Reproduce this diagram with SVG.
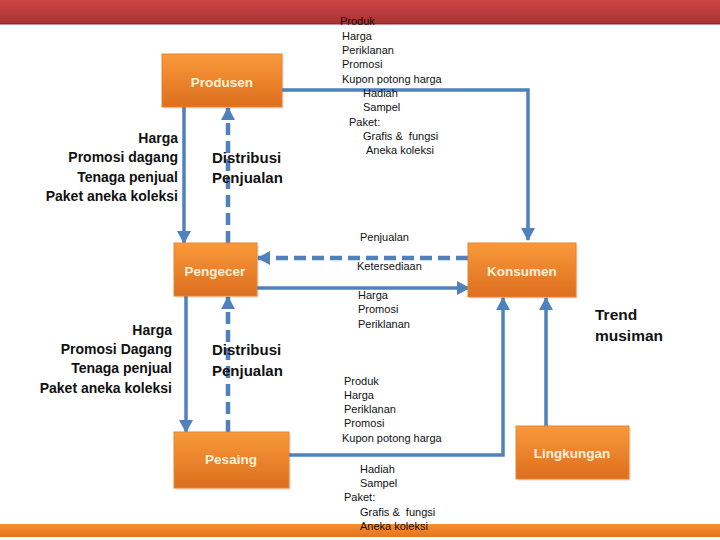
<svg xmlns="http://www.w3.org/2000/svg" width="720" height="540" viewBox="0 0 720 540">
<defs>
<linearGradient id="red" x1="0" y1="0" x2="0" y2="1"><stop offset="0" stop-color="#cf4545"/><stop offset="1" stop-color="#a83232"/></linearGradient>
<linearGradient id="org" x1="0" y1="0" x2="0" y2="1"><stop offset="0" stop-color="#f9993a"/><stop offset="1" stop-color="#dd6e1e"/></linearGradient>
<linearGradient id="band" x1="0" y1="0" x2="0" y2="1"><stop offset="0" stop-color="#f7902f"/><stop offset="1" stop-color="#e2731f"/></linearGradient>
<marker id="ah" markerUnits="userSpaceOnUse" markerWidth="14" markerHeight="14" viewBox="0 0 14 14" refX="12" refY="7" orient="auto"><path d="M0,0 L13,7 L0,14 Z" fill="#4f81bd"/></marker>
<style>
.s{fill:none;stroke:#4f81bd;stroke-width:3.5}
.d{fill:none;stroke:#4f81bd;stroke-width:4.5;stroke-dasharray:12 6}
.box{fill:url(#org);stroke:#e8842e;stroke-width:1}
.sh{fill:#000;opacity:0.08}
.bl{font-family:"Liberation Sans",Arial,sans-serif;font-weight:bold;font-size:13.5px;fill:#fdf1d6;text-anchor:middle}
.lt{font-family:"Liberation Sans",Arial,sans-serif;font-weight:bold;font-size:14px;fill:#111;text-anchor:end}
.dt{font-family:"Liberation Sans",Arial,sans-serif;font-weight:bold;font-size:15px;fill:#111}
.sm{font-family:"Liberation Sans",Arial,sans-serif;font-size:11px;fill:#111}
</style>
</defs>
<rect x="0" y="0" width="720" height="540" fill="#fff"/>
<rect x="0" y="0" width="720" height="24" fill="url(#red)"/>
<rect x="0" y="23" width="720" height="1.5" fill="#8e2a2a"/>
<rect x="0" y="524" width="720" height="13" fill="url(#band)"/>

<g id="connectors">
<path class="s" d="M282,90 H528 V240" marker-end="url(#ah)"/>
<path class="s" d="M184,107 V243" marker-end="url(#ah)"/>
<path class="d" d="M228,243 V108" marker-end="url(#ah)"/>
<path class="d" d="M468,258 H258" marker-end="url(#ah)"/>
<path class="s" d="M257,288 H469" marker-end="url(#ah)"/>
<path class="s" d="M186,296 V432" marker-end="url(#ah)"/>
<path class="d" d="M228,432 V297" marker-end="url(#ah)"/>
<path class="s" d="M289,455 H503 V298" marker-end="url(#ah)"/>
<path class="s" d="M546,426 V298" marker-end="url(#ah)"/>
</g>

<g id="produsen"><rect class="sh" x="164" y="56" width="120" height="53"/><rect class="box" x="162" y="54" width="120" height="53"/><text class="bl" x="222" y="87">Produsen</text></g>
<g id="pengecer"><rect class="sh" x="176" y="245" width="83" height="53"/><rect class="box" x="174" y="243" width="83" height="53"/><text class="bl" x="215" y="276">Pengecer</text></g>
<g id="konsumen"><rect class="sh" x="470" y="245" width="108" height="54"/><rect class="box" x="468" y="243" width="108" height="54"/><text class="bl" x="522" y="276">Konsumen</text></g>
<g id="pesaing"><rect class="sh" x="176" y="434" width="115" height="56"/><rect class="box" x="174" y="432" width="115" height="56"/><text class="bl" x="231" y="464">Pesaing</text></g>
<g id="lingkungan"><rect class="sh" x="518" y="428" width="113" height="53"/><rect class="box" x="516" y="426" width="113" height="53"/><text class="bl" x="572" y="458">Lingkungan</text></g>

<g id="labels">
<text class="sm" x="340" y="25">Produk</text>
<text class="sm" x="342" y="40">Harga</text>
<text class="sm" x="342" y="54">Periklanan</text>
<text class="sm" x="342" y="68">Promosi</text>
<text class="sm" x="342" y="83">Kupon potong harga</text>
<text class="sm" x="363" y="97">Hadiah</text>
<text class="sm" x="363" y="111">Sampel</text>
<text class="sm" x="349" y="126">Paket:</text>
<text class="sm" x="363" y="140" xml:space="preserve">Grafis &amp;  fungsi</text>
<text class="sm" x="366" y="154">Aneka koleksi</text>

<text class="lt" x="178" y="143">Harga</text>
<text class="lt" x="178" y="162">Promosi dagang</text>
<text class="lt" x="178" y="182">Tenaga penjual</text>
<text class="lt" x="178" y="201">Paket aneka koleksi</text>
<text class="dt" x="212" y="163">Distribusi</text>
<text class="dt" x="212" y="183">Penjualan</text>

<text class="sm" x="360" y="241">Penjualan</text>
<text class="sm" x="357" y="270">Ketersediaan</text>
<text class="sm" x="358" y="299">Harga</text>
<text class="sm" x="358" y="313">Promosi</text>
<text class="sm" x="358" y="328">Periklanan</text>

<text class="lt" x="172" y="335">Harga</text>
<text class="lt" x="172" y="354">Promosi Dagang</text>
<text class="lt" x="172" y="373">Tenaga penjual</text>
<text class="lt" x="172" y="393">Paket aneka koleksi</text>
<text class="dt" x="212" y="355">Distribusi</text>
<text class="dt" x="212" y="376">Penjualan</text>

<text class="dt" x="595" y="320" style="font-size:15.5px">Trend</text>
<text class="dt" x="595" y="341" style="font-size:15.5px">musiman</text>

<text class="sm" x="344" y="385">Produk</text>
<text class="sm" x="344" y="399">Harga</text>
<text class="sm" x="344" y="413">Periklanan</text>
<text class="sm" x="344" y="427">Promosi</text>
<text class="sm" x="342" y="442">Kupon potong harga</text>
<text class="sm" x="360" y="473">Hadiah</text>
<text class="sm" x="360" y="487">Sampel</text>
<text class="sm" x="344" y="501">Paket:</text>
<text class="sm" x="360" y="516" xml:space="preserve">Grafis &amp;  fungsi</text>
<text class="sm" x="360" y="530">Aneka koleksi</text>
</g>
</svg>
